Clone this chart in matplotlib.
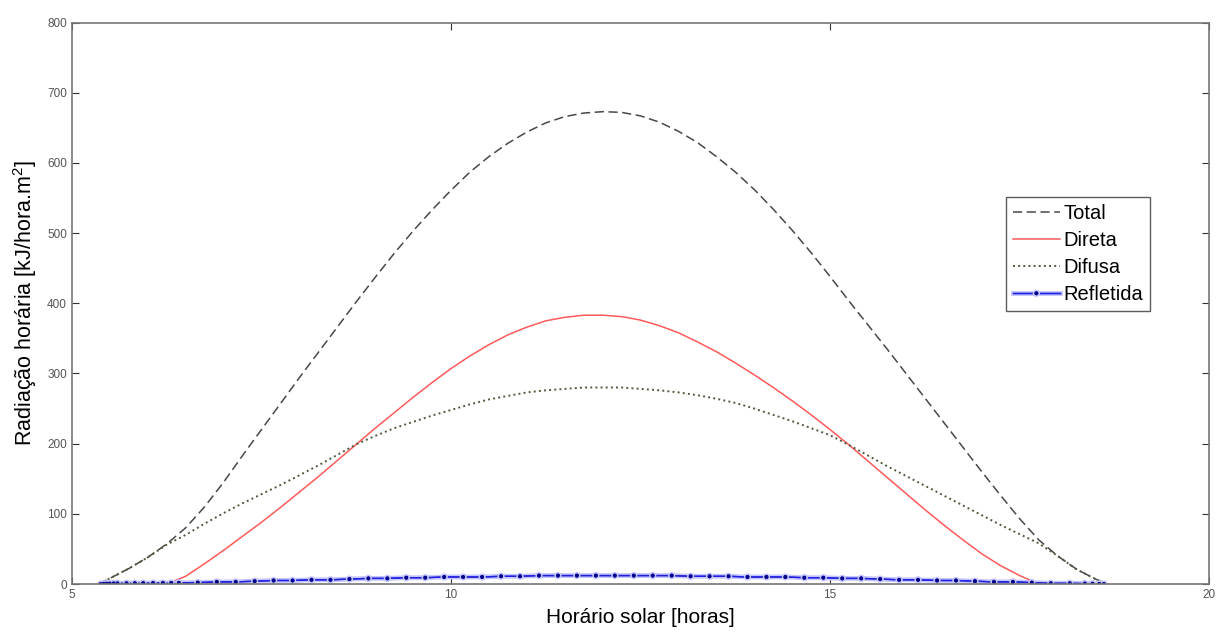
import matplotlib
matplotlib.use("Agg")
import matplotlib.pyplot as plt
import matplotlib.patheffects as pe

# hours for total / direct / diffuse curves
horas = [5.35, 5.5, 5.75, 6.0, 6.25, 6.5, 6.75, 7.0, 7.25, 7.5, 7.75, 8.0, 8.25, 8.5,
         8.75, 9.0, 9.25, 9.5, 9.75, 10.0, 10.25, 10.5, 10.75, 11.0, 11.25, 11.5, 11.75,
         12.0, 12.25, 12.5, 12.75, 13.0, 13.25, 13.5, 13.75, 14.0, 14.25, 14.5, 14.75,
         15.0, 15.25, 15.5, 15.75, 16.0, 16.25, 16.5, 16.75, 17.0, 17.25, 17.5, 17.75,
         18.0, 18.25, 18.5, 18.65]

total = [0, 8, 22, 38, 57, 80, 110, 145, 183, 220, 257, 294, 330, 366,
         402, 437, 471, 503, 533, 561, 587, 609, 628, 644, 657, 666, 671,
         673, 672, 667, 658, 645, 629, 609, 587, 562, 534, 504, 472,
         438, 403, 369, 335, 300, 265, 230, 195, 160, 126, 93, 63,
         40, 21, 7, 0]

direta = [0, 0, 0, 0, 0, 11, 29, 48, 68, 88, 109, 131, 153, 176,
          199, 222, 244, 266, 287, 307, 325, 341, 355, 366, 375, 380, 383,
          383, 381, 376, 368, 358, 345, 331, 315, 298, 280, 261, 241,
          220, 198, 175, 152, 129, 106, 84, 63, 43, 26, 12, 0,
          0, 0, 0, 0]

difusa = [0, 8, 22, 38, 56, 70, 86, 101, 115, 128, 141, 155, 169, 184,
          199, 211, 222, 231, 240, 248, 256, 263, 268, 273, 276, 278, 280,
          280, 280, 278, 276, 273, 269, 264, 258, 250, 241, 232, 222,
          212, 198, 183, 168, 154, 140, 126, 112, 98, 84, 71, 58,
          40, 21, 7, 0]

# reflected component has its own time steps (marker positions)
horas_ref = [5.38, 5.42, 5.46, 5.5, 5.55, 5.6, 5.72, 5.83, 5.94, 6.07, 6.2, 6.31, 6.41,
             6.66, 6.91, 7.16, 7.41, 7.66, 7.91, 8.16, 8.41, 8.66, 8.91, 9.16, 9.41,
             9.66, 9.91, 10.16, 10.41, 10.66, 10.91, 11.16, 11.41, 11.66, 11.91, 12.16,
             12.41, 12.66, 12.91, 13.16, 13.41, 13.66, 13.91, 14.16, 14.41, 14.66, 14.91,
             15.16, 15.41, 15.66, 15.91, 16.16, 16.41, 16.66, 16.91, 17.16, 17.41, 17.66,
             17.91, 18.16, 18.36, 18.46, 18.55, 18.61]

refletida = [0, 0.3, 0.5, 0.6, 0.8, 0.9, 1, 1, 1.2, 1.3, 1.4, 1.5, 1.7,
             2, 3, 3, 4, 5, 5, 6, 6, 7, 8, 8, 9,
             9, 10, 10, 10, 11, 11, 12, 12, 12, 12, 12,
             12, 12, 12, 11, 11, 11, 10, 10, 10, 9, 9,
             8, 8, 7, 6, 6, 5, 5, 4, 3, 3, 2,
             1, 1, 0.6, 0.4, 0.2, 0]

plt.rcParams['font.family'] = ['Liberation Sans', 'DejaVu Sans']

fig = plt.figure(figsize=(12.19, 6.33), dpi=100)
ax = fig.add_axes([0.059, 0.0774, 0.933, 0.887])

ax.plot(horas, total, '--', color='#484848', lw=1.1, dashes=(6, 3), label='Total')
ax.plot(horas, direta, '-', color='#ff5a5a', lw=1.1, label='Direta')
ax.plot(horas, difusa, ':', color='#4f5a3c', lw=1.4, label='Difusa')
ax.plot(horas_ref, refletida, '-', color='#2020e0', lw=1.0, marker='.',
        markersize=3.5, markerfacecolor='#000090', markeredgecolor='#000090',
        label='Refletida',
        path_effects=[pe.withStroke(linewidth=3.5, foreground='#c4c4ff'), pe.Normal()])

ax.set_xlim(5, 20)
ax.set_ylim(0, 800)
ax.set_xticks([5, 10, 15, 20])
ax.set_yticks(range(0, 801, 100))
ax.tick_params(direction='in', top=True, right=True, labelsize=8.5,
               labelcolor='#555555', color='#333333', length=5)
for s in ax.spines.values():
    s.set_color('#777777')
    s.set_linewidth(1.2)

ax.set_xlabel('Horário solar [horas]', fontsize=15, labelpad=5)
ax.set_ylabel('Radiação horária [kJ/hora.m$^{\\mathregular{2}}$]', fontsize=15.5, labelpad=6)

leg = ax.legend(loc='upper left', bbox_to_anchor=(0.821, 0.689), fontsize=14.5,
                frameon=True, fancybox=False, edgecolor='#333333',
                borderpad=0.35, labelspacing=0.4, handlelength=2.35,
                handletextpad=0.15, borderaxespad=0)
leg.get_frame().set_linewidth(1.0)

fig.savefig('out.png', dpi=100)
